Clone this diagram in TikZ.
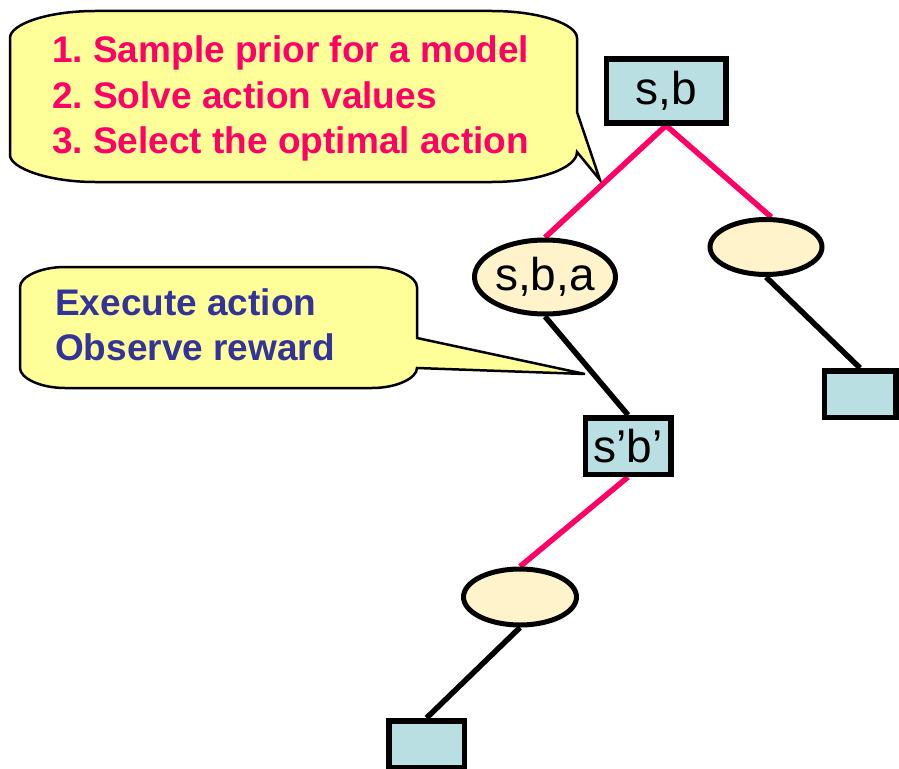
\documentclass[tikz,border=0pt]{standalone}
\usepackage{fontspec}
\setmainfont{Liberation Sans}
\usetikzlibrary{shapes.geometric}
\definecolor{boxblue}{HTML}{B9DFE3}
\definecolor{cream}{HTML}{FFF3CC}
\definecolor{callyellow}{HTML}{FFFF99}
\definecolor{hotpink}{HTML}{FF0066}
\definecolor{navyblue}{HTML}{333399}
\pgfdeclarelayer{bg}
\pgfdeclarelayer{edges}
\pgfsetlayers{bg,edges,main}
\frenchspacing
\begin{document}
\begin{tikzpicture}[x=1pt,y=-1pt,
  statebox/.style={draw=black,fill=boxblue,line width=5.5pt,inner sep=0pt,font=\fontsize{46}{50}\selectfont},
  actell/.style={ellipse,draw=black,fill=cream,line width=5pt,inner sep=0pt,font=\fontsize{46}{50}\selectfont},
  pinkedge/.style={draw=hotpink,line width=5.5pt},
  blackedge/.style={draw=black,line width=5.5pt},
  callout/.style={draw=black,fill=callyellow,line width=2.5pt,line join=miter},
  redtext/.style={anchor=base west,inner sep=0pt,text=hotpink,font=\bfseries\fontsize{37}{40}\selectfont},
  bluetext/.style={anchor=base west,inner sep=0pt,text=navyblue,font=\bfseries\fontsize{37}{40}\selectfont}]
\useasboundingbox (0,0) rectangle (899,768);

% callouts
\begin{pgfonlayer}{bg}
\path[callout] (95,11) -- (492,11) .. controls (539,11) and (577,24) .. (577,38)
  -- (577,112) -- (600,180) -- (577,152)
  .. controls (577,168) and (539,182) .. (492,182)
  -- (95,182) .. controls (48,182) and (10,168) .. (10,155)
  -- (10,38) .. controls (10,24) and (48,11) .. (95,11) -- cycle;
\path[callout] (65,267) -- (372,267) .. controls (397,267) and (417,277) .. (417,287)
  -- (417,338) -- (585,374) -- (417,368)
  .. controls (417,378) and (397,388) .. (372,388)
  -- (65,388) .. controls (40,388) and (20,378) .. (20,368)
  -- (20,287) .. controls (20,277) and (40,267) .. (65,267) -- cycle;
\end{pgfonlayer}

\node[redtext] (t1) at (52,63) {1. Sample prior for a model};
\node[redtext] (t2) at (52,108) {2. Solve action values};
\node[redtext] (t3) at (52,153) {3. Select the optimal action};
\node[bluetext] (u1) at (55,315) {Execute action};
\node[bluetext] (u2) at (55,360) {Observe reward};

% tree nodes
\node[statebox,minimum width=119.5pt,minimum height=63.5pt] (sb) at (666,91) {s,b};
\node[actell,minimum width=140pt,minimum height=74pt] (sba) at (545,277) {s,b,a};
\node[actell,minimum width=112pt,minimum height=55pt] (e2) at (766,247) {};
\node[statebox,minimum width=71.5pt,minimum height=46.5pt] (r2) at (860,394) {};
\node[statebox,minimum width=85.5pt,minimum height=56.5pt] (sb2) at (628,446) {s’b’};
\node[actell,minimum width=113pt,minimum height=56pt] (e3) at (520,597) {};
\node[statebox,minimum width=75.5pt,minimum height=46.5pt] (r3) at (426.5,744) {};

\begin{pgfonlayer}{edges}
\draw[pinkedge] (sb.south) -- (sba.north);
\draw[pinkedge] (sb.south) -- (e2.80);
\draw[blackedge] (sba.south) -- (sb2.north);
\draw[blackedge] (e2.south) -- (r2.north);
\draw[pinkedge] (sb2.south) -- (e3.north);
\draw[blackedge] (e3.south) -- (r3.north);
\end{pgfonlayer}
\end{tikzpicture}
\end{document}
